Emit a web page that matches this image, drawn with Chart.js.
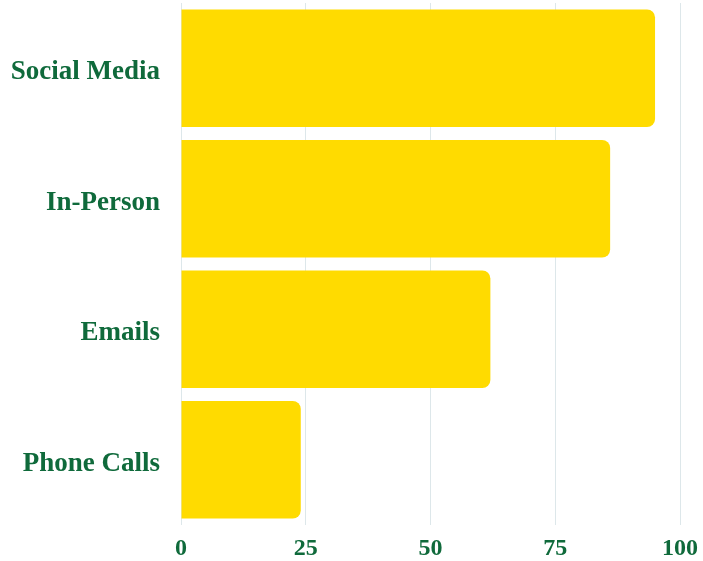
<!DOCTYPE html>
<html>
<head>
<meta charset="utf-8">
<script src="https://cdn.jsdelivr.net/npm/chart.js@4/dist/chart.umd.min.js"></script>
<style>
    html, body { margin: 0; padding: 0; background: #ffffff; }
    #wrap { width: 703px; height: 561px; position: relative; }
</style>
</head>
<body>
<div id="wrap"><canvas id="channelChart"></canvas></div>
<script>
(function () {
    'use strict';

    var FONT = "'Liberation Serif', 'Times New Roman', serif";
    var GREEN = '#0f6a3b';
    var YELLOW = '#ffdb00';

    var categories = ['Social Media', 'In-Person', 'Emails', 'Phone Calls'];
    var values = [95, 86, 62, 24];
    var xTicks = [0, 25, 50, 75, 100];

    var canvas = document.getElementById('channelChart');

    new Chart(canvas, {
        type: 'bar',
        data: {
            labels: categories,
            datasets: [{
                data: values,
                backgroundColor: YELLOW,
                borderRadius: 8,
                borderSkipped: 'start',
                barPercentage: 1,
                categoryPercentage: 0.9
            }]
        },
        options: {
            indexAxis: 'y',
            responsive: true,
            maintainAspectRatio: false,
            animation: false,
            layout: { padding: { top: 3, right: 0, bottom: 0, left: 0 } },
            plugins: {
                legend: { display: false },
                tooltip: { enabled: false }
            },
            scales: {
                x: {
                    min: xTicks[0],
                    max: xTicks[xTicks.length - 1],
                    afterBuildTicks: function (axis) {
                        axis.ticks = xTicks.map(function (v) { return { value: v }; });
                    },
                    afterFit: function (axis) {
                        // fixed room for the tick row, labels may overhang the plot
                        axis.height = 36;
                        axis.paddingLeft = 0;
                        axis.paddingRight = 23;
                    },
                    ticks: {
                        font: { family: FONT, size: 24, weight: 'bold' },
                        color: GREEN,
                        padding: 9,
                        maxRotation: 0
                    },
                    grid: { color: '#dde7ea', drawTicks: false },
                    border: { display: false }
                },
                y: {
                    afterFit: function (axis) {
                        axis.width = 181;
                        axis.paddingTop = 0;
                        axis.paddingBottom = 0;
                    },
                    ticks: {
                        font: { family: FONT, size: 27, weight: 'bold' },
                        color: GREEN,
                        padding: 21,
                        labelOffset: 4
                    },
                    grid: { display: false, drawTicks: false },
                    border: { display: false }
                }
            }
        }
    });
})();
</script>
</body>
</html>
